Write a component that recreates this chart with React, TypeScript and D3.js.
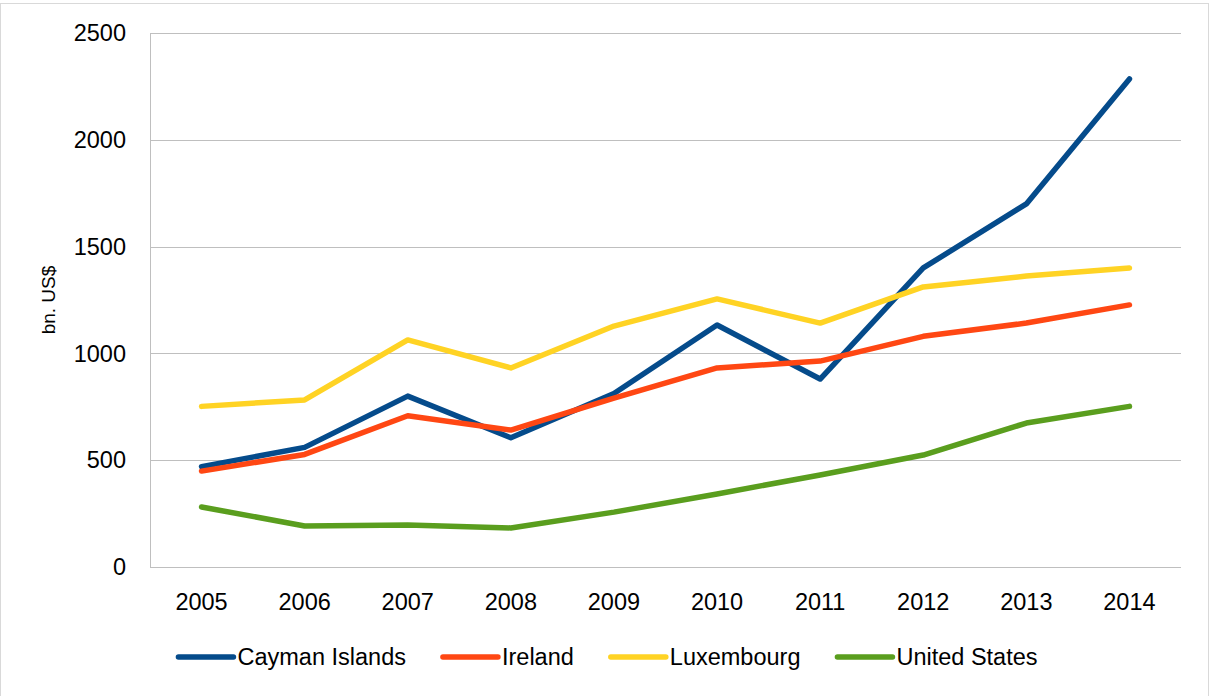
import React, { useRef, useEffect } from "react";
import * as d3 from "d3";

// data (bn. US$)
const years = ["2005", "2006", "2007", "2008", "2009", "2010", "2011", "2012", "2013", "2014"];
const cayman = [470, 560, 800, 605, 812, 1133, 880, 1400, 1700, 2285];
const ireland = [449, 527, 708, 641, 791, 932, 964, 1080, 1142, 1227];
const luxembourg = [752, 782, 1063, 932, 1128, 1255, 1142, 1311, 1362, 1400];
const unitedStates = [281, 192, 197, 183, 257, 342, 431, 524, 674, 752];
const seriesNames = ["Cayman Islands", "Ireland", "Luxembourg", "United States"];
const seriesColors = ["#054b8b", "#ff4713", "#ffd324", "#5a9e1e"];
const yTicks = [0, 500, 1000, 1500, 2000, 2500];

function App() {
    const ref = useRef<SVGSVGElement>(null);

    useEffect(() => {
        draw();
    }, []);

    const draw = () => {
        const root = d3.select(ref.current);
        root.selectAll("*").remove();

        let svgWidth = 1210;
        let svgHeight = 696;
        let margin = { top: 33, right: 29, bottom: 129, left: 150 };
        let width = svgWidth - margin.left - margin.right;
        let height = svgHeight - margin.top - margin.bottom;
        const font = "'Liberation Sans', Arial, sans-serif";

        // chart border
        root.append("rect")
            .attr("x", 0.5)
            .attr("y", 3.5)
            .attr("width", 1208)
            .attr("height", 720)
            .attr("fill", "white")
            .attr("stroke", "#d9d9d9");

        let x = d3.scaleBand().domain(years).range([0, width]);
        let y = d3.scaleLinear().domain([0, 2500]).range([height, 0]);

        const svg = root.append("g")
            .attr("transform", "translate(" + margin.left + "," + margin.top + ")");

        // gridlines
        svg.selectAll(".grid")
            .data(yTicks)
            .enter()
            .append("line")
            .attr("x1", 0)
            .attr("x2", width)
            .attr("y1", (d) => Math.round(y(d)) + 0.5)
            .attr("y2", (d) => Math.round(y(d)) + 0.5)
            .attr("stroke", "#bfbfbf")
            .attr("stroke-width", 1);

        svg.append("line")
            .attr("x1", 0.5)
            .attr("x2", 0.5)
            .attr("y1", 0)
            .attr("y2", height)
            .attr("stroke", "#bfbfbf");

        // y tick labels
        svg.selectAll(".ytick")
            .data(yTicks)
            .enter()
            .append("text")
            .text((d) => d)
            .attr("x", -24)
            .attr("y", (d) => y(d))
            .attr("dy", "0.35em")
            .attr("text-anchor", "end")
            .attr("font-family", font)
            .attr("font-size", "23.5px")
            .attr("fill", "#000");

        // x tick labels
        svg.selectAll(".xtick")
            .data(years)
            .enter()
            .append("text")
            .text((d) => d)
            .attr("x", (d) => x(d)! + x.bandwidth() / 2)
            .attr("y", height + 35)
            .attr("dy", "0.35em")
            .attr("text-anchor", "middle")
            .attr("font-family", font)
            .attr("font-size", "23.5px")
            .attr("fill", "#000");

        // axis title
        svg.append("text")
            .text("bn. US$")
            .attr("transform", "translate(" + (-102) + "," + height / 2 + ") rotate(-90)")
            .attr("dy", "0.35em")
            .attr("text-anchor", "middle")
            .attr("font-family", font)
            .attr("font-size", "19px")
            .attr("fill", "#000");

        // lines
        const allSeries = [cayman, ireland, luxembourg, unitedStates];
        const line = d3.line<number>()
            .x((d, i) => x(years[i])! + x.bandwidth() / 2)
            .y((d) => y(d));

        svg.selectAll(".series")
            .data(allSeries)
            .enter()
            .append("path")
            .attr("d", (d) => line(d))
            .attr("fill", "none")
            .attr("stroke", (d, i) => seriesColors[i])
            .attr("stroke-width", 5.5)
            .attr("stroke-linejoin", "round")
            .attr("stroke-linecap", "round");

        // legend
        const legend = root.append("g");
        let cursor = 0;
        const lineLen = 55;
        const itemGap = 37;
        seriesNames.forEach((name, i) => {
            const g = legend.append("g").attr("transform", "translate(" + cursor + ",0)");
            g.append("line")
                .attr("x1", 0)
                .attr("x2", lineLen)
                .attr("y1", 0)
                .attr("y2", 0)
                .attr("stroke", seriesColors[i])
                .attr("stroke-width", 5.5)
                .attr("stroke-linecap", "round");
            const t = g.append("text")
                .text(name)
                .attr("x", lineLen + 4)
                .attr("y", 0)
                .attr("dy", "0.35em")
                .attr("font-family", font)
                .attr("font-size", "23.5px")
                .attr("fill", "#000");
            const w = (t.node() as SVGTextElement).getComputedTextLength();
            cursor += lineLen + 4 + w + itemGap;
        });
        const total = cursor - itemGap;
        legend.attr("transform", "translate(" + (608 - total / 2) + ",657)");
    };

    return (
        <div className="chart">
            <svg ref={ref} width={1210} height={696} style={{ position: "absolute", left: 0, top: 0 }}></svg>
        </div>
    );
}

export default App;
